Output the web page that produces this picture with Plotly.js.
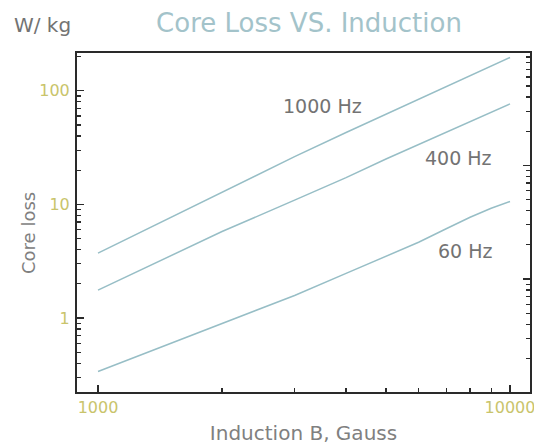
<!DOCTYPE html>
<html>
<head>
<meta charset="utf-8">
<script src="https://cdn.plot.ly/plotly-3.0.1.min.js"></script>
<style>html,body{margin:0;padding:0;background:#fff;}#chart{width:534px;height:445px;}</style>
</head>
<body>
<div id="chart"></div>
<script>
// Induction B (Gauss) and core loss (W/kg)
const inductionGauss = [1000, 2000, 3000, 4000, 5000, 6000, 7000, 8000, 9000, 10000];
const loss1000Hz = [3.73, 12.9, 26.3, 42.9, 62.2, 84.4, 108.7, 136, 165, 196];
const loss400Hz  = [1.76, 5.77, 10.9, 17.2, 25.1, 33.7, 43.2, 53.6, 64.7, 76.7];
const loss60Hz   = [0.339, 0.887, 1.58, 2.47, 3.47, 4.64, 6.10, 7.70, 9.24, 10.6];
const curveLabels = ['1000 Hz', '400 Hz', '60 Hz'];

const xTickVals = [1000, 10000];
const xTickText = ['1000', '10000'];
const xMinorVals = [2000, 3000, 4000, 5000, 6000, 7000, 8000, 9000];
const yTickVals = [1, 10, 100];
const yTickText = ['1', '10', '100'];
const yMinorVals = [0.3, 0.4, 0.5, 0.6, 0.7, 0.8, 0.9, 2, 3, 4, 5, 6, 7, 8, 9, 20, 30, 40, 50, 60, 70, 80, 90, 200];
// right-hand axis (W/lb, unlabelled)
const y2TickVals = [1, 10];
const y2MinorVals = [0.2, 0.3, 0.4, 0.5, 0.6, 0.7, 0.8, 0.9, 2, 3, 4, 5, 6, 7, 8, 9, 20, 30, 40, 50, 60, 70, 80, 90];
const WKG_PER_WLB = 2.2046;

const FONT = 'DejaVu Sans';
const lineColor = '#97bec6';
const frameColor = '#2a2a2a';
const tickLabelColor = '#c9c46b';
const grayText = '#737373';

const lineStyle = {color: lineColor, width: 1.5};
const traces = [
  {x: inductionGauss, y: loss1000Hz, mode: 'lines', line: lineStyle, name: curveLabels[0], showlegend: false, hoverinfo: 'skip'},
  {x: inductionGauss, y: loss400Hz, mode: 'lines', line: lineStyle, name: curveLabels[1], showlegend: false, hoverinfo: 'skip'},
  {x: inductionGauss, y: loss60Hz, mode: 'lines', line: lineStyle, name: curveLabels[2], showlegend: false, hoverinfo: 'skip'},
  {x: [], y: [], yaxis: 'y2', mode: 'lines', showlegend: false, hoverinfo: 'skip'}
];

const yRange = [-0.6508, 2.332];
const off = Math.log10(WKG_PER_WLB);
const plotL = 77, plotW = 534 - 77 - 4, plotT = 53, plotH = 445 - 53 - 53;
const px2paperX = (px) => (px - plotL) / plotW;
const px2paperY = (py) => 1 - (py - plotT) / plotH;

const layout = {
  width: 534, height: 445,
  margin: {l: 77, r: 4, t: 53, b: 53},
  paper_bgcolor: '#ffffff', plot_bgcolor: '#ffffff',
  showlegend: false,
  title: {
    text: 'Core Loss VS. Induction',
    font: {family: FONT, size: 26, color: '#a3c3ca'},
    x: 309 / 534, xanchor: 'center', xref: 'container',
    y: 1 - 23 / 445, yanchor: 'middle', yref: 'container'
  },
  xaxis: {
    type: 'log', range: [2.949, 4.0485],
    showgrid: false, zeroline: false,
    showline: true, linecolor: frameColor, linewidth: 2, mirror: true,
    ticks: 'inside', ticklen: 7, tickwidth: 1.5, tickcolor: frameColor,
    tickmode: 'array', tickvals: xTickVals, ticktext: xTickText,
    ticklabeloverflow: 'allow',
    tickfont: {family: FONT, size: 16, color: tickLabelColor},
    minor: {tickmode: 'array', tickvals: xMinorVals, ticks: 'inside', ticklen: 4, tickwidth: 1.2, tickcolor: frameColor, showgrid: false},
    title: {text: 'Induction B, Gauss', font: {family: FONT, size: 20, color: '#808080'}, standoff: 16}
  },
  yaxis: {
    type: 'log', range: yRange,
    showgrid: false, zeroline: false,
    showline: true, linecolor: frameColor, linewidth: 2, mirror: false,
    ticks: 'inside', ticklen: 7, tickwidth: 1.5, tickcolor: frameColor,
    tickmode: 'array', tickvals: yTickVals, ticktext: yTickText,
    tickfont: {family: FONT, size: 16, color: tickLabelColor},
    ticklabelstandoff: 2,
    minor: {tickmode: 'array', tickvals: yMinorVals, ticks: 'inside', ticklen: 4, tickwidth: 1.2, tickcolor: frameColor, showgrid: false}
  },
  yaxis2: {
    type: 'log', overlaying: 'y', side: 'right', anchor: 'x',
    range: [yRange[0] - off, yRange[1] - off],
    showgrid: false, zeroline: false,
    showline: true, linecolor: frameColor, linewidth: 2,
    ticks: 'inside', ticklen: 7, tickwidth: 1.5, tickcolor: frameColor,
    tickmode: 'array', tickvals: y2TickVals, showticklabels: false,
    minor: {tickmode: 'array', tickvals: y2MinorVals, ticks: 'inside', ticklen: 4, tickwidth: 1.2, tickcolor: frameColor, showgrid: false}
  },
  annotations: [
    {text: curveLabels[0], x: 3.546, y: 1.867, xref: 'x', yref: 'y', showarrow: false, xanchor: 'center', yanchor: 'middle', font: {family: FONT, size: 19, color: grayText}},
    {text: curveLabels[1], x: 3.874, y: 1.410, xref: 'x', yref: 'y', showarrow: false, xanchor: 'center', yanchor: 'middle', font: {family: FONT, size: 19, color: grayText}},
    {text: curveLabels[2], x: 3.891, y: 0.5875, xref: 'x', yref: 'y', showarrow: false, xanchor: 'center', yanchor: 'middle', font: {family: FONT, size: 19, color: grayText}},
    {text: 'W/ kg', x: px2paperX(42), y: px2paperY(25), xref: 'paper', yref: 'paper', showarrow: false, xanchor: 'center', yanchor: 'middle', font: {family: FONT, size: 20, color: grayText}},
    {text: 'Core loss', x: px2paperX(28), y: px2paperY(233), xref: 'paper', yref: 'paper', showarrow: false, textangle: -90, xanchor: 'center', yanchor: 'middle', font: {family: FONT, size: 18, color: '#808080'}}
  ]
};

Plotly.newPlot('chart', traces, layout, {staticPlot: true, displayModeBar: false});
</script>
</body>
</html>
